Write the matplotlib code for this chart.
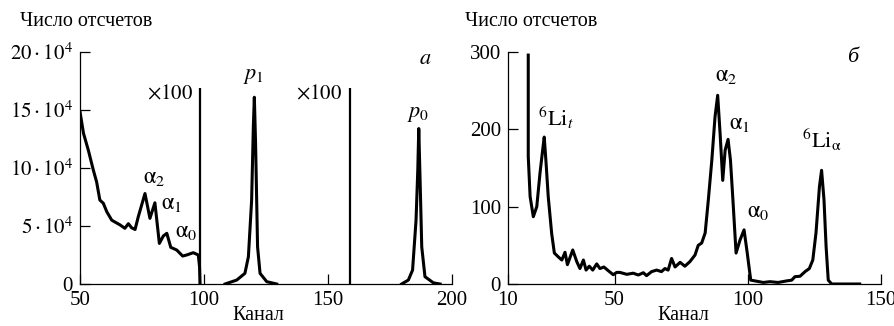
import matplotlib
matplotlib.use("Agg")
import matplotlib.pyplot as plt

plt.rcParams['font.family'] = ['Liberation Serif', 'DejaVu Serif']
plt.rcParams['mathtext.fontset'] = 'stix'

# ---------------- data: panel a (counts in units of 10^4) ----------------
a_bg_ch = [50, 51.4, 53.4, 55.4, 56.7, 58, 59.4, 60.8, 62.8, 66.1, 68.1, 69.5, 70.8, 72.2,
           73.5, 76.2, 78.2, 80.2, 82, 83.6, 85, 86.6, 89, 91.4, 93, 95.7, 97.7, 98.2, 98.4]
a_bg_val = [14.85, 13.0, 11.5, 9.8, 8.8, 7.24, 6.96, 6.23, 5.5, 5.1, 4.8, 5.2, 4.85, 4.7,
            5.8, 7.8, 5.66, 7.0, 3.5, 4.14, 4.37, 3.16, 2.93, 2.41, 2.5, 2.7, 2.5, 1.5, 0]
a_p1_ch = [108.5, 113.2, 116.5, 117.9, 119.2, 119.9, 120.3, 120.8, 121.6, 122.6, 125.3, 129.3]
a_p1_val = [0, 0.34, 0.92, 2.35, 7.2, 13.6, 16.1, 12.1, 3.2, 0.92, 0.2, 0]
a_p0_ch = [179.7, 182.4, 184.1, 185.5, 186.2, 186.6, 187.1, 187.8, 189.1, 192.5, 195.2]
a_p0_val = [0, 0.34, 1.2, 5.5, 9.8, 13.4, 9.25, 3.2, 0.63, 0.1, 0]
a_scale_ch = [98.4, 158.9]
a_scale_height = 16.9
a_xticks = [50, 100, 150, 200]
a_yticks = [0, 5, 10, 15, 20]
a_yticklabels = ['0', r'$5\cdot10^4$', r'$10\cdot10^4$', r'$15\cdot10^4$', r'$20\cdot10^4$']

# ---------------- data: panel б ----------------
b_ch = [17.6, 17.6, 18.3, 19.5, 20.8, 22, 23, 23.6, 24.3, 25.1, 26.4, 27.4, 28.9, 30.2, 31.4,
        32.3, 34.3, 35.8, 37, 38.3, 39.3, 40.5, 41.8, 43.3, 44.5, 46, 47.7, 49.5, 50.8, 52,
        54.6, 57, 58.9, 60.8, 62, 63.9, 65.8, 67.6, 68.9, 70.1, 71.4, 72.7, 74.6, 76.4, 78.3,
        80.2, 81.4, 82.7, 84, 85.2, 86.5, 87.7, 88.7, 89.6, 90.6, 91.5, 92.6, 93.5, 94.4, 95.6,
        97.1, 98.6, 99.8, 101.1, 102.7, 105.8, 108.3, 111.4, 114.6, 116.5, 117.7, 119.6, 121.5,
        123.1, 124.4, 125.6, 126.9, 127.7, 128.6, 129.4, 130.2, 131.5, 136, 142]
b_val = [296, 165, 113, 87, 100, 143, 173, 190, 156, 113, 65, 40, 35, 31, 41,
         25, 44, 29, 20, 31, 18, 23, 18, 26, 20, 22, 17, 12, 15, 15,
         12.5, 14, 11.6, 14.6, 10.8, 16, 18, 16, 20, 18, 33, 22, 28, 23, 29,
         37.5, 50, 53, 66, 109, 160, 216, 244, 195, 134, 173, 187, 160, 110, 40,
         57, 70, 40, 5, 4, 2, 3, 2, 4, 5, 9.5, 10, 16,
         20, 31, 66, 126, 147, 109, 48, 5, 0, 0, 0]
b_xticks = [10, 50, 100, 150]
b_yticks = [0, 100, 200, 300]

W, H = 895, 326
fig = plt.figure(figsize=(W / 100, H / 100), dpi=100)

def px(x, y):
    return x / W, 1 - y / H

LW = 2.2
FS = 15      # tick labels
LFS = 14.5   # axis titles
AFS = 16     # annotations

def style(ax):
    for s in ['top', 'right']:
        ax.spines[s].set_visible(False)
    for s in ['left', 'bottom']:
        ax.spines[s].set_linewidth(0.9)
    ax.tick_params(direction='in', length=7, width=0.9, labelsize=FS, pad=5)

# panel a
axa = fig.add_axes([80 / W, 1 - 284 / H, 372 / W, 232 / H])
style(axa)
axa.plot(a_bg_ch, a_bg_val, color='black', lw=LW, solid_joinstyle='round')
axa.plot(a_p1_ch, a_p1_val, color='black', lw=LW, solid_joinstyle='round')
axa.plot(a_p0_ch, a_p0_val, color='black', lw=LW, solid_joinstyle='round')
axa.vlines(a_scale_ch, 0, a_scale_height, color='black', lw=1.6)
axa.set_xlim(50, 200)
axa.set_ylim(0, 20)
axa.set_xticks(a_xticks)
axa.set_yticks(a_yticks)
axa.set_yticklabels(a_yticklabels)

# panel б
axb = fig.add_axes([508 / W, 1 - 284 / H, 373 / W, 232 / H])
style(axb)
axb.plot(b_ch, b_val, color='black', lw=LW, solid_joinstyle='round')
axb.set_xlim(10, 150)
axb.set_ylim(0, 300)
axb.set_xticks(b_xticks)
axb.set_yticks(b_yticks)

# axis titles
fig.text(*px(20, 21), 'Число отсчетов', fontsize=LFS, ha='left', va='center')
fig.text(*px(465, 21), 'Число отсчетов', fontsize=LFS, ha='left', va='center')
fig.text(*px(258, 316), 'Канал', fontsize=LFS, ha='center', va='center')
fig.text(*px(683, 316), 'Канал', fontsize=LFS, ha='center', va='center')

# annotations panel a
fig.text(*px(425, 60), r'$a$', fontsize=AFS, ha='center', va='center')
fig.text(*px(254, 77), r'$p_1$', fontsize=AFS, ha='center', va='center')
fig.text(*px(193, 95), r'$\times 100$', fontsize=FS, ha='right', va='center')
fig.text(*px(342, 95), r'$\times 100$', fontsize=FS, ha='right', va='center')
fig.text(*px(418, 115), r'$p_0$', fontsize=AFS, ha='center', va='center')
fig.text(*px(154, 177), r'$\mathrm{\alpha}_2$', fontsize=AFS + 0.5, ha='center', va='center')
fig.text(*px(172, 204), r'$\mathrm{\alpha}_1$', fontsize=AFS + 0.5, ha='center', va='center')
fig.text(*px(186, 231), r'$\mathrm{\alpha}_0$', fontsize=AFS + 0.5, ha='center', va='center')

# annotations panel б
fig.text(*px(853, 58), 'б', fontsize=AFS, ha='center', va='center', style='italic')
fig.text(*px(556, 118), r'$^{6}\mathrm{Li}_{t}$', fontsize=AFS, ha='center', va='center')
fig.text(*px(726, 75), r'$\mathrm{\alpha}_2$', fontsize=AFS + 0.5, ha='center', va='center')
fig.text(*px(740, 124), r'$\mathrm{\alpha}_1$', fontsize=AFS + 0.5, ha='center', va='center')
fig.text(*px(758, 212), r'$\mathrm{\alpha}_0$', fontsize=AFS + 0.5, ha='center', va='center')
fig.text(*px(822, 140), r'$^{6}\mathrm{Li}_{\mathrm{\alpha}}$', fontsize=AFS, ha='center', va='center')

fig.savefig('out.png', dpi=100)
